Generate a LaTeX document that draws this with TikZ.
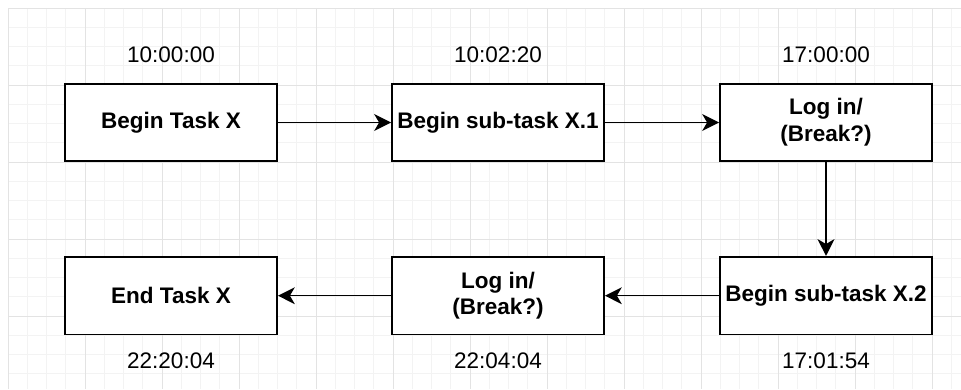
\documentclass[tikz,border=0pt]{standalone}
\usepackage{fontspec}
\setmainfont{Liberation Sans}
\usetikzlibrary{arrows.meta,positioning}
\definecolor{gridminor}{HTML}{F3F3F3}
\definecolor{gridmajor}{HTML}{E3E3E3}
\definecolor{ink}{HTML}{000000}

\begin{document}
\begin{tikzpicture}[
  x=0.025cm, y=-0.025cm, >=Stealth, line join=miter,
  taskbox/.style={draw=ink, line width=1.3pt, fill=white, minimum width=5.3cm,
    minimum height=1.94cm, align=center, font=\fontsize{16}{19}\selectfont\bfseries, inner sep=0pt},
  stamp/.style={font=\fontsize{16}{19}\selectfont, text=ink},
  flow/.style={->, line width=1.1pt, ink, >={Stealth[length=12pt, width=12pt, inset=3.5pt]}}]

\useasboundingbox[fill=white] (0,0) rectangle (961,389);

% ---- background grid ---------------------------------------------------
\foreach \i in {0,...,49} {
  \draw[gridminor, line width=0.5pt] (8+\i*19.25,8) -- (8+\i*19.25,389);
}
\foreach \j in {0,...,19} {
  \draw[gridminor, line width=0.5pt] (8,8+\j*19.25) -- (961,8+\j*19.25);
}
\foreach \i in {0,...,12} {
  \draw[gridmajor, line width=0.6pt] (8+\i*77,8) -- (8+\i*77,389);
}
\foreach \j in {0,...,4} {
  \draw[gridmajor, line width=0.6pt] (8,8+\j*77) -- (961,8+\j*77);
}

% ---- top row -------------------------------------------------------------
\node[taskbox] (begin) at (171,122.5) {Begin Task X};
\node[taskbox] (sub1)  at (498,122.5) {Begin sub-task X.1};
\node[taskbox] (log1)  at (826,122.5) {Log in/\\(Break?)};

\node[stamp] (t1) at (171,55) {10:00:00};
\node[stamp] (t2) at (498,55) {10:02:20};
\node[stamp] (t3) at (826,55) {17:00:00};

% ---- bottom row ----------------------------------------------------------
\node[taskbox] (sub2)  at (826,295.7) {Begin sub-task X.2};
\node[taskbox] (log2)  at (498,295.7) {Log in/\\(Break?)};
\node[taskbox] (finish) at (171,295.7) {End Task X};

\node[stamp] (t4) at (826,361) {17:01:54};
\node[stamp] (t5) at (498,361) {22:04:04};
\node[stamp] (t6) at (171,361) {22:20:04};

% ---- connectors ----------------------------------------------------------
\draw[flow] (begin) -- (sub1);
\draw[flow] (sub1) -- (log1);
\draw[flow] (log1) -- (sub2);
\draw[flow] (sub2) -- (log2);
\draw[flow] (log2) -- (finish);

\end{tikzpicture}
\end{document}
